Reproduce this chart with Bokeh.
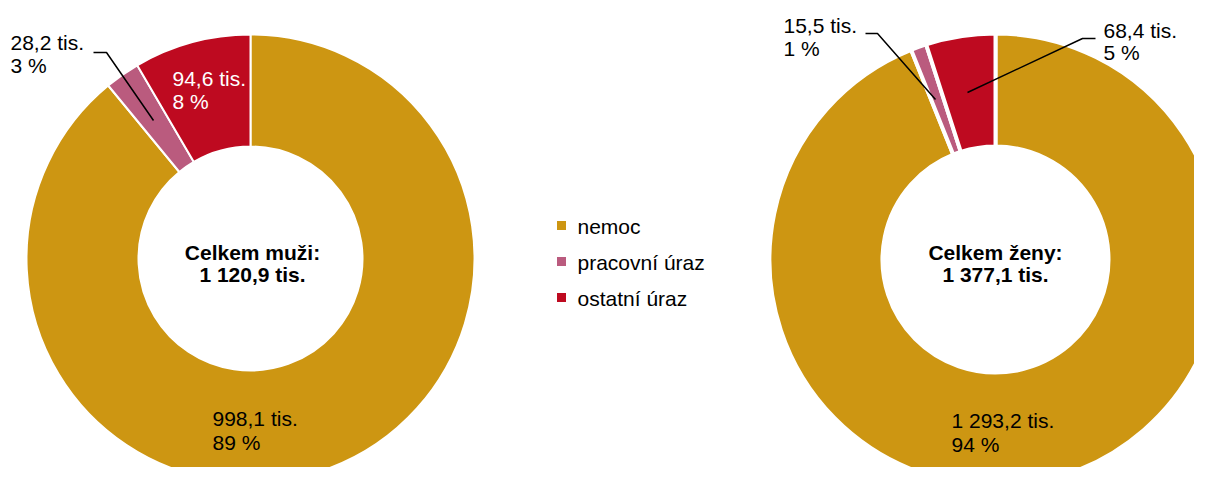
import math
from bokeh.plotting import figure
from bokeh.models import Range1d, ColumnDataSource
from bokeh.core.properties import value
from bokeh.embed import file_html
from bokeh.resources import INLINE

categories = ["nemoc", "pracovní úraz", "ostatní úraz"]
colors = ["#CD9612", "#BA5B7E", "#BE0A20"]
muzi = [998.1, 28.2, 94.6]
zeny = [1293.2, 15.5, 68.4]
total_labels = ["Celkem muži:", "Celkem ženy:"]

FONT = "Liberation Sans"
W, H = 1194, 467

def Y(iy):
    return 483 - iy

def fmt(v):
    s = f"{v:,.1f}".replace(",", " ").replace(".", ",")
    return s + " tis."

p = figure(width=W, height=H, output_backend="svg", toolbar_location=None,
           x_range=Range1d(0, W), y_range=Range1d(483 - H, 483),
           min_border=0)
p.axis.visible = False
p.xgrid.visible = False
p.ygrid.visible = False
p.outline_line_color = None
p.background_fill_color = "white"
p.border_fill_color = "white"

def donut(vals, cx, cy, r_in, r_out, sep):
    tot = sum(vals)
    starts, ends = [], []
    cum = 0.0
    for v in vals:
        starts.append(math.pi / 2 - 2 * math.pi * cum / tot)
        cum += v
        ends.append(math.pi / 2 - 2 * math.pi * cum / tot)
    src = ColumnDataSource(dict(start=starts, end=ends, color=colors, cat=categories))
    p.annular_wedge(x=cx, y=Y(cy), inner_radius=r_in, outer_radius=r_out,
                    start_angle="start", end_angle="end", direction="clock",
                    fill_color="color", line_color="white", line_width=sep,
                    source=src)
    return tot

def label(x, iy, txt, color="black", bold=False, align="left", size="21px"):
    p.text(x=[x], y=[Y(iy)], text=[txt], text_font=value(FONT),
           text_font_size=size, text_color=color, text_align=align,
           text_baseline="middle",
           text_font_style="bold" if bold else "normal")

def pct(v, tot):
    return f"{round(v / tot * 100)} %"

# Left donut (men)
tm = donut(muzi, 250, 258, 112, 224, 2)
# Right donut (women)
tz = donut(zeny, 995, 259, 113, 226, 4)

# Center totals
label(252, 252, total_labels[0], bold=True, align="center")
label(252, 274, fmt(tm), bold=True, align="center")
label(995, 252, total_labels[1], bold=True, align="center")
label(995, 274, fmt(tz), bold=True, align="center")

# Men labels
label(212, 418, fmt(muzi[0]))
label(212, 442, pct(muzi[0], tm))
label(10, 42, fmt(muzi[1]))
label(10, 65, pct(muzi[1], tm))
label(172, 78, fmt(muzi[2]), color="white")
label(172, 101, pct(muzi[2], tm), color="white")

# Women labels
label(951, 420, fmt(zeny[0]))
label(951, 444, pct(zeny[0], tz))
label(783, 25, fmt(zeny[1]))
label(783, 48, pct(zeny[1], tz))
label(1103, 30, fmt(zeny[2]))
label(1103, 52, pct(zeny[2], tz))

# Leader lines
p.line(x=[93, 106, 153], y=[Y(52), Y(52), Y(120)], line_color="black", line_width=1.5)
p.line(x=[865, 877, 935], y=[Y(33), Y(33), Y(99)], line_color="black", line_width=1.5)
p.line(x=[1095, 1082, 967], y=[Y(38), Y(38), Y(92)], line_color="black", line_width=1.5)

# Legend
leg_y = [225, 261, 297]
p.rect(x=[561] * 3, y=[Y(v) for v in leg_y], width=9, height=9,
       width_units="screen", height_units="screen",
       fill_color=colors, line_color=None)
for cat, yy in zip(categories, leg_y):
    label(577, yy + 1, cat)

open("out.html", "w").write(file_html(p, INLINE))
